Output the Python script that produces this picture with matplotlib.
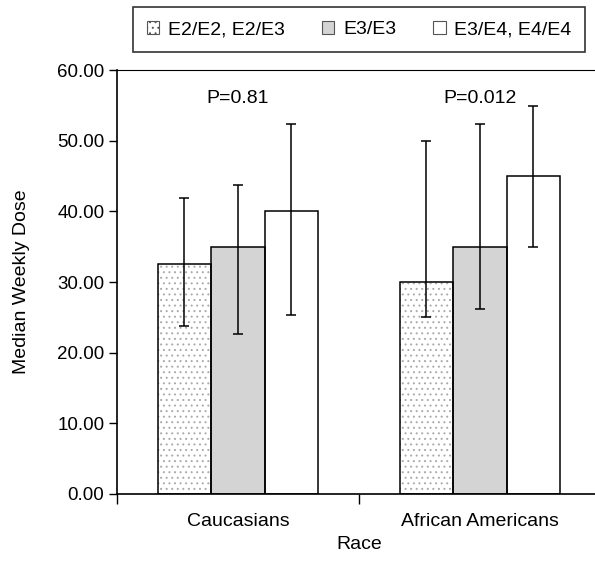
import numpy as np
import matplotlib
matplotlib.use('Agg')
import matplotlib.pyplot as plt
from matplotlib.patches import Patch

plt.rcParams['font.family'] = ['Liberation Sans', 'DejaVu Sans']
plt.rcParams['hatch.linewidth'] = 0.7

# Data
races = ['Caucasians', 'African Americans']
genotypes = ['E2/E2, E2/E3', 'E3/E3', 'E3/E4, E4/E4']
dose = {
    'E2/E2, E2/E3': [32.5, 30.0],
    'E3/E3': [35.0, 35.0],
    'E3/E4, E4/E4': [40.0, 45.0],
}
err_low = {
    'E2/E2, E2/E3': [23.8, 25.0],
    'E3/E3': [22.6, 26.2],
    'E3/E4, E4/E4': [25.4, 35.0],
}
err_high = {
    'E2/E2, E2/E3': [41.9, 50.0],
    'E3/E3': [43.7, 52.4],
    'E3/E4, E4/E4': [52.4, 54.9],
}
p_values = ['P=0.81', 'P=0.012']

# Bar styles per genotype
styles = {
    'E2/E2, E2/E3': dict(facecolor='white', hatch='...'),
    'E3/E3': dict(facecolor='#d4d4d4', hatch=''),
    'E3/E4, E4/E4': dict(facecolor='white', hatch=''),
}
fs = 14

fig = plt.figure(figsize=(5.95, 5.62), dpi=100)
ax = fig.add_axes([0.1966, 0.121, 0.8134, 0.7544])

x = np.arange(len(races)) + 0.5
width = 0.221

handles = []
for i, g in enumerate(genotypes):
    pos = x + (i - 1) * width
    vals = np.array(dose[g])
    lo = vals - np.array(err_low[g])
    hi = np.array(err_high[g]) - vals
    st = styles[g]
    # fill + hatch (hatch takes the edge colour), then the black outline on top
    ax.bar(pos, vals, width, facecolor=st['facecolor'], edgecolor='#aaaaaa',
           linewidth=0, hatch=st['hatch'], zorder=2)
    ax.bar(pos, vals, width, facecolor='none', edgecolor='black',
           linewidth=1.1, zorder=2.5)
    ax.errorbar(pos, vals, yerr=[lo, hi], fmt='none', ecolor='black',
                elinewidth=1.1, capsize=3.6, capthick=1.1, zorder=3)
    handles.append(Patch(facecolor=st['facecolor'], edgecolor='#555555', linewidth=0.8,
                         hatch=st['hatch'], label=g))

for xi, p in zip(x, p_values):
    ax.text(xi, 56.0, p, ha='center', va='center', fontsize=fs)

ax.set_xlim(0, 1.99)
ax.set_ylim(0, 60)
ax.set_yticks(np.arange(0, 61, 10))
ax.set_yticklabels([f'{v:.2f}' for v in np.arange(0, 61, 10)], fontsize=13.5)
ax.set_xticks([0, 1, 2])
ax.set_xticklabels([])
ax.set_xticks(x, minor=True)
ax.set_xticklabels(races, minor=True, fontsize=fs)
ax.tick_params(axis='x', which='minor', length=0, pad=14)
ax.tick_params(axis='x', which='major', direction='out', length=7, width=1)
ax.tick_params(axis='y', direction='out', length=6, width=1, pad=3)

ax.spines['right'].set_visible(False)
for s in ['left', 'bottom']:
    ax.spines[s].set_linewidth(1.2)
ax.spines['top'].set_linewidth(0.8)

ax.set_xlabel('Race', fontsize=fs, labelpad=4)
ax.set_ylabel('Median Weekly Dose', fontsize=fs)
ax.yaxis.set_label_coords(-0.18, 0.5)

leg = fig.legend(handles=handles, loc='lower left', mode='expand',
                 bbox_to_anchor=(0.2235, 0.908, 0.76, 0.08),
                 ncol=3, fontsize=fs, frameon=True, fancybox=False,
                 edgecolor='black', handlelength=0.65, handleheight=0.65,
                 handletextpad=0.45, columnspacing=0.8, borderpad=0.7,
                 borderaxespad=0)
leg.get_frame().set_linewidth(1.2)

fig.savefig('out.png', dpi=100)
